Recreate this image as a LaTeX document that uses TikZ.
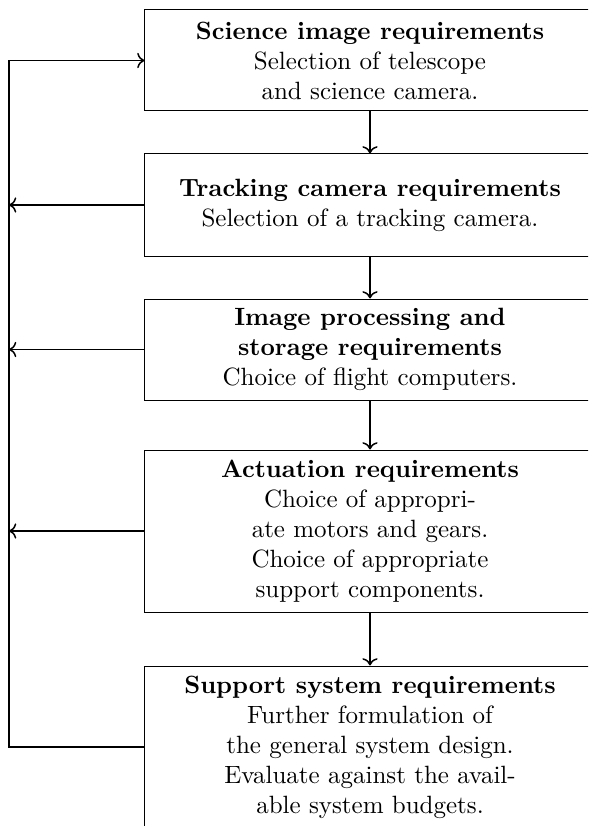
\documentclass[tikz,border=0pt]{standalone}
\usetikzlibrary{arrows.meta}
\begin{document}
\begin{tikzpicture}[x=0.4pt,y=-0.4pt,
  reqbox/.style={draw, line width=0.4pt, align=center, minimum width=180pt, inner sep=3.33pt},
  flow/.style={draw, line width=0.6pt, ->}]
\clip (0,0) rectangle (588,826);
\node[reqbox, minimum height=40.4pt] (b1) at (370,60.5) {\textbf{Science image requirements}\\Selection of telescope\\and science camera.};
\node[reqbox, minimum height=40.8pt] (b2) at (370,205) {\textbf{Tracking camera requirements}\\Selection of a tracking camera.};
\node[reqbox, minimum height=40.4pt] (b3) at (370,349.5) {\textbf{Image processing and}\\\textbf{storage requirements}\\Choice of flight computers.};
\node[reqbox, minimum height=64.8pt] (b4) at (370,531) {\textbf{Actuation requirements}\\Choice of appropri-\\ate motors and gears.\\Choice of appropriate\\support components.};
\node[reqbox, minimum height=64.8pt] (b5) at (370,747) {\textbf{Support system requirements}\\Further formulation of\\the general system design.\\Evaluate against the avail-\\able system budgets.};
\coordinate (fb) at (9,747);
\draw[flow] (b1) -- (b2);
\draw[flow] (b2) -- (b3);
\draw[flow] (b3) -- (b4);
\draw[flow] (b4) -- (b5);
\draw[flow] (b5.west) -- (fb) |- (b1.west);
\draw[flow] (b2.west) -- (b2.west -| fb);
\draw[flow] (b3.west) -- (b3.west -| fb);
\draw[flow] (b4.west) -- (b4.west -| fb);
\end{tikzpicture}
\end{document}
